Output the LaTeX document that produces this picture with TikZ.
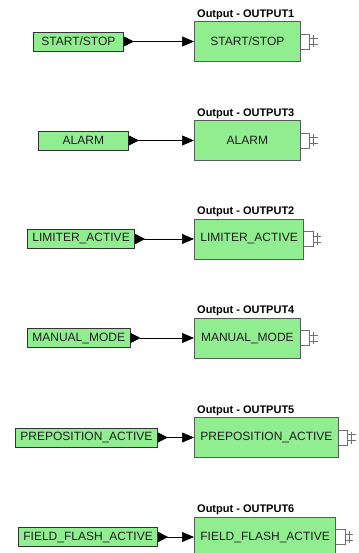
\documentclass[tikz,border=0pt]{standalone}
\usepackage{fontspec}
\setmainfont{Liberation Sans}
\usepackage{xcolor}
\usepackage{tikz}
\usetikzlibrary{arrows.meta, positioning}
\definecolor{blockfill}{HTML}{90EE90}
\definecolor{sigline}{HTML}{333333}
\definecolor{outline}{HTML}{5A5A5A}
\definecolor{labeltext}{HTML}{1E1E1E}
\definecolor{plugline}{HTML}{707070}

\begin{document}
\begin{tikzpicture}[x=1pt, y=-1pt,
    signal/.style={rectangle, draw=sigline, fill=blockfill, line width=0.8pt,
                   text=labeltext, minimum width=90pt, minimum height=19pt,
                   inner xsep=5pt, inner ysep=0pt, anchor=west,
                   font=\fontsize{12}{14}\selectfont},
    outblock/.style={rectangle, draw=outline, fill=blockfill, line width=0.8pt,
                     text=labeltext, minimum width=106pt, minimum height=40pt,
                     inner xsep=6pt, anchor=west,
                     font=\fontsize{12}{14}\selectfont},
    heading/.style={anchor=south west, inner xsep=3pt, inner ysep=1.5pt,
                    font=\bfseries\fontsize{11}{13}\selectfont},
    wire/.style={{Triangle[reversed, length=10pt, width=10pt]}-{Triangle[length=12pt, width=10pt]},
                 line width=0.7pt, color=black},
    plug/.pic={
      \draw[plugline, line width=0.7pt] (0,-7.5) -- (9,-7.5) -- (9,7.5) -- (0,7.5);
      \draw[plugline, line width=0.7pt] (9,-3) -- (17,-3) (9,3) -- (17,3)
        (13,-6) -- (13,6);
    }
  ]
    \useasboundingbox (0,0) rectangle (358,553);

    % Input signals
    \node[signal] (startin) at (33,41.5) {START/STOP};
    \node[signal] (alarmin) at (38,140.5) {ALARM};
    \node[signal] (limitin) at (27,239) {LIMITER\_ACTIVE};
    \node[signal] (manualin) at (27,338) {MANUAL\_MODE};
    \node[signal] (prepin) at (15,437.5) {PREPOSITION\_ACTIVE};
    \node[signal] (flashin) at (18,537) {FIELD\_FLASH\_ACTIVE};

    % Output blocks
    \node[outblock] (startout) at (194,41.5) {START/STOP};
    \node[outblock] (alarmout) at (194,140.5) {ALARM};
    \node[outblock] (limitout) at (194,239) {LIMITER\_ACTIVE};
    \node[outblock] (manualout) at (194,338) {MANUAL\_MODE};
    \node[outblock] (prepout) at (194,437.5) {PREPOSITION\_ACTIVE};
    \node[outblock] (flashout) at (194,537) {FIELD\_FLASH\_ACTIVE};

    % Block titles
    \node[heading] (starttitle) at (startout.north west) {Output - OUTPUT1};
    \node[heading] (alarmtitle) at (alarmout.north west) {Output - OUTPUT3};
    \node[heading] (limittitle) at (limitout.north west) {Output - OUTPUT2};
    \node[heading] (manualtitle) at (manualout.north west) {Output - OUTPUT4};
    \node[heading] (preptitle) at (prepout.north west) {Output - OUTPUT5};
    \node[heading] (flashtitle) at (flashout.north west) {Output - OUTPUT6};

    % Wires
    \draw[wire] (startin) -- (startout);
    \draw[wire] (alarmin) -- (alarmout);
    \draw[wire] (limitin) -- (limitout);
    \draw[wire] (manualin) -- (manualout);
    \draw[wire] (prepin) -- (prepout);
    \draw[wire] (flashin) -- (flashout);

    % Plugs on the right side
    \pic at (startout.east) {plug};
    \pic at (alarmout.east) {plug};
    \pic at (limitout.east) {plug};
    \pic at (manualout.east) {plug};
    \pic at (prepout.east) {plug};
    \pic at (flashout.east) {plug};
  \end{tikzpicture}
\end{document}
